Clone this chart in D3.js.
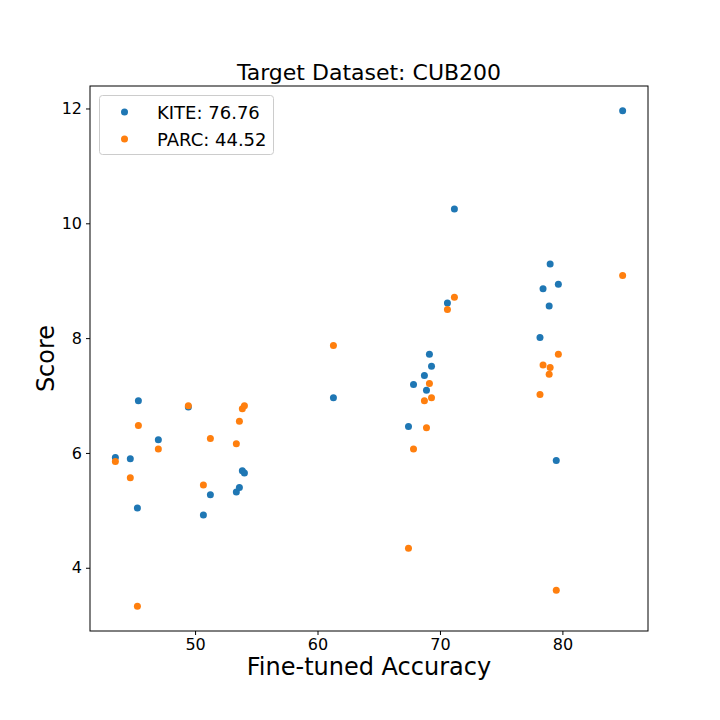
<!DOCTYPE html>
<html lang="en">
<head>
    <meta charset="utf-8">
    <title>Target Dataset: CUB200</title>
    <script type="text/javascript" src="https://d3js.org/d3.v7.min.js"></script>
    <style>
        body { margin: 0; background: #fff; }
        svg text { font-family: "DejaVu Sans", sans-serif; fill: #000; }
    </style>
</head>
<body>
    <script type="text/javascript">

        // fine-tuned accuracy per source model (shared by both series)
        var accuracy = [
            43.49, 44.71, 45.37, 45.29, 47.00, 49.45, 50.68, 51.25, 53.37, 53.62, 53.86, 54.03,
            61.30, 67.43, 67.84, 68.73, 68.90, 69.14, 69.31, 70.61, 71.18,
            78.17, 78.42, 78.92, 79.00, 79.67, 79.50, 84.92
        ];
        var kiteScore = [
            5.92, 5.90, 6.91, 5.04, 6.23, 6.80, 4.92, 5.27, 5.32, 5.40, 5.69, 5.65,
            6.96, 6.46, 7.19, 7.35, 7.09, 7.72, 7.51, 8.61, 10.25,
            8.01, 8.86, 8.56, 9.29, 8.94, 5.87, 11.96
        ];
        var parcScore = [
            5.85, 5.57, 6.48, 3.33, 6.07, 6.82, 5.44, 6.25, 6.16, 6.55, 6.77, 6.82,
            7.87, 4.34, 6.07, 6.91, 6.44, 7.21, 6.96, 8.50, 8.71,
            7.02, 7.53, 7.37, 7.49, 7.72, 3.61, 9.09
        ];
        var seriesNames = ["KITE: 76.76", "PARC: 44.52"];
        var seriesColors = ["#1f77b4", "#ff7f0e"];
        var xTicks = [50, 60, 70, 80];
        var yTicks = [4, 6, 8, 10, 12];

        var W = 720, H = 720;
        var mLeft = 90, mRight = 648, mTop = 86, mBottom = 631;
        var r = 3.5;

        var svg = d3.select("body")
            .append("svg")
            .attr("width", W)
            .attr("height", H);

        // matplotlib style 5% margins
        function padded(vals) {
            var lo = d3.min(vals), hi = d3.max(vals), pad = (hi - lo) * 0.05;
            return [lo - pad, hi + pad];
        }

        var x = d3.scaleLinear()
            .domain(padded(accuracy))
            .range([mLeft, mRight]);
        var y = d3.scaleLinear()
            .domain(padded(kiteScore.concat(parcScore)))
            .range([mBottom, mTop]);

        var xAxis = svg.append("g")
            .attr("transform", "translate(0," + mBottom + ")")
            .call(d3.axisBottom(x).tickValues(xTicks).tickSize(4).tickPadding(4).tickFormat(d3.format("d")));
        var yAxis = svg.append("g")
            .attr("transform", "translate(" + mLeft + ",0)")
            .call(d3.axisLeft(y).tickValues(yTicks).tickSize(4).tickPadding(4).tickFormat(d3.format("d")));

        [xAxis, yAxis].forEach(function (g) {
            g.select(".domain").remove();
            g.selectAll("line").attr("stroke", "#000");
            g.selectAll("text")
                .attr("font-family", "DejaVu Sans")
                .attr("font-size", 16)
                .attr("fill", "#000");
        });

        var series = [kiteScore, parcScore];
        series.forEach(function (vals, s) {
            svg.append("g")
                .selectAll("circle")
                .data(vals)
                .enter()
                .append("circle")
                .attr("cx", function (d, i) { return x(accuracy[i]); })
                .attr("cy", function (d) { return y(d); })
                .attr("r", r)
                .attr("fill", seriesColors[s]);
        });

        // frame
        svg.append("rect")
            .attr("x", mLeft)
            .attr("y", mTop)
            .attr("width", mRight - mLeft)
            .attr("height", mBottom - mTop)
            .attr("fill", "none")
            .attr("stroke", "#000")
            .attr("stroke-width", 1);

        svg.append("text")
            .attr("x", (mLeft + mRight) / 2)
            .attr("y", 80)
            .attr("text-anchor", "middle")
            .attr("font-size", 22)
            .text("Target Dataset: CUB200");

        svg.append("text")
            .attr("x", (mLeft + mRight) / 2)
            .attr("y", 675)
            .attr("text-anchor", "middle")
            .attr("font-size", 24)
            .text("Fine-tuned Accuracy");

        svg.append("text")
            .attr("transform", "translate(54," + ((mTop + mBottom) / 2) + ") rotate(-90)")
            .attr("text-anchor", "middle")
            .attr("font-size", 24)
            .text("Score");

        // legend
        var legend = svg.append("g");
        legend.append("rect")
            .attr("x", 99.5)
            .attr("y", 95.5)
            .attr("width", 174)
            .attr("height", 59)
            .attr("rx", 3)
            .attr("fill", "#fff")
            .attr("fill-opacity", 0.8)
            .attr("stroke", "#ccc");
        seriesNames.forEach(function (name, s) {
            var cy = 112 + s * 27;
            legend.append("circle")
                .attr("cx", 124.5)
                .attr("cy", cy)
                .attr("r", r)
                .attr("fill", seriesColors[s]);
            legend.append("text")
                .attr("x", 157)
                .attr("y", cy + 6.5)
                .attr("font-size", 18)
                .text(name);
        });

    </script>
</body>
</html>
